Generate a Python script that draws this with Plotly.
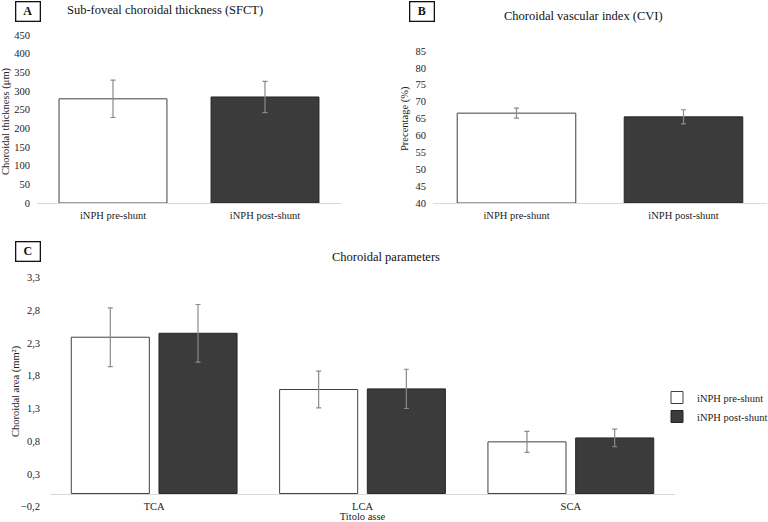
import plotly.graph_objects as go

# ---- data ----
groups = ["iNPH pre-shunt", "iNPH post-shunt"]
sfct_mean = [279, 284]
sfct_err = [50, 42]
cvi_mean = [66.6, 65.5]
cvi_err = [1.5, 2.1]
params = ["TCA", "LCA", "SCA"]
pre_area = [2.39, 1.59, 0.79]
pre_area_err = [0.45, 0.28, 0.16]
post_area = [2.45, 1.60, 0.85]
post_area_err = [0.44, 0.30, 0.135]

W, H = 768, 522
FONT = "Liberation Serif, Times New Roman, serif"
WHITE_FILL = "#ffffff"
DARK_FILL = "#3b3b3b"
PRE_LINE = "#404040"
POST_LINE = "#262626"
ERR_COL = "#8a8a8a"
AXIS_COL = "#d9d9d9"


def px_x(x):
    return x / W


def px_y(y):
    return (H - y) / H


fig = go.Figure()

err_style = dict(type="data", color=ERR_COL, thickness=1.2, width=2.5)

# Panel A
fig.add_trace(go.Bar(
    x=groups, y=sfct_mean,
    error_y=dict(array=sfct_err, **err_style),
    marker=dict(color=[WHITE_FILL, DARK_FILL], line=dict(color=[PRE_LINE, POST_LINE], width=1)),
    width=0.71, showlegend=False, xaxis="x", yaxis="y"))

# Panel B
fig.add_trace(go.Bar(
    x=groups, y=[v - 40 for v in cvi_mean], base=40,
    error_y=dict(array=cvi_err, **err_style),
    marker=dict(color=[WHITE_FILL, DARK_FILL], line=dict(color=[PRE_LINE, POST_LINE], width=1)),
    width=0.71, showlegend=False, xaxis="x2", yaxis="y2"))

# Panel C
fig.add_trace(go.Bar(
    name="iNPH pre-shunt", x=params, y=pre_area,
    error_y=dict(array=pre_area_err, **err_style),
    marker=dict(color=WHITE_FILL, line=dict(color=PRE_LINE, width=1)),
    xaxis="x3", yaxis="y3"))
fig.add_trace(go.Bar(
    name="iNPH post-shunt", x=params, y=post_area,
    error_y=dict(array=post_area_err, **err_style),
    marker=dict(color=DARK_FILL, line=dict(color=POST_LINE, width=1)),
    xaxis="x3", yaxis="y3"))

tickfont = dict(family=FONT, size=10.5, color="#222222")

c_dom = [px_y(506.6), px_y(277.7)]
c_rng = [-0.2, 3.3]
c_zero_pos = c_dom[0] + (0 - c_rng[0]) / (c_rng[1] - c_rng[0]) * (c_dom[1] - c_dom[0])

common = dict(automargin=False, ticks="", tickfont=tickfont, fixedrange=True)

fig.update_layout(
    width=W, height=H,
    margin=dict(l=0, r=0, t=0, b=0, autoexpand=False),
    paper_bgcolor="white", plot_bgcolor="white",
    font=dict(family=FONT, color="#222222"),
    separators=", ",
    barmode="group", bargap=0.158, bargroupgap=0.11,
    xaxis=dict(domain=[px_x(37), px_x(341)], anchor="y", showline=True, linecolor=AXIS_COL,
               linewidth=1, ticklabelstandoff=2, **common),
    yaxis=dict(domain=[px_y(203), px_y(35)], anchor="x", range=[0, 450], dtick=50,
               showgrid=False, zeroline=False, showline=False, ticklabelstandoff=6, **common),
    xaxis2=dict(domain=[px_x(433), px_x(767)], anchor="y2", showline=True, linecolor=AXIS_COL,
                linewidth=1, ticklabelstandoff=2, **common),
    yaxis2=dict(domain=[px_y(203), px_y(51)], anchor="x2", range=[40, 85], dtick=5,
                showgrid=False, zeroline=False, showline=False, ticklabelstandoff=6, **common),
    xaxis3=dict(domain=[px_x(50), px_x(675)], anchor="free", position=c_zero_pos,
                showline=True, linecolor=AXIS_COL, linewidth=1, ticklabelstandoff=3,
                title=dict(text="Titolo asse", font=dict(family=FONT, size=10.5), standoff=1),
                **common),
    yaxis3=dict(domain=c_dom, anchor="x3", range=c_rng, tick0=-0.2, dtick=0.5,
                tickformat=".1f", showgrid=False, zeroline=False, showline=False,
                ticklabelstandoff=9, **common),
    legend=dict(x=px_x(657), y=px_y(383), xanchor="left", yanchor="top",
                font=dict(family=FONT, size=10.5, color="#222222"),
                bgcolor="rgba(0,0,0,0)", tracegroupgap=0, itemwidth=30),
)

titles = [
    ("Sub-foveal choroidal thickness (SFCT)", 164.5, 10),
    ("Choroidal vascular index (CVI)", 583, 16),
    ("Choroidal parameters", 386, 257),
]
for t, x, y in titles:
    fig.add_annotation(text=t, x=px_x(x), y=px_y(y), xref="paper", yref="paper",
                       showarrow=False, xanchor="center", yanchor="middle",
                       font=dict(family=FONT, size=12.5, color="#111111"))

ytitles = [
    ("Choroidal thickness (μm)", 6, 121),
    ("Precentage (%)", 405, 119),
    ("Choroidal area (mm²)", 16, 391),
]
for t, x, y in ytitles:
    fig.add_annotation(text=t, x=px_x(x), y=px_y(y), xref="paper", yref="paper",
                       showarrow=False, xanchor="center", yanchor="middle", textangle=-90,
                       font=dict(family=FONT, size=10.5, color="#222222"))

boxes = [("A", 28, 11.5), ("B", 421.5, 11.5), ("C", 27.5, 251.5)]
for t, x, y in boxes:
    fig.add_annotation(text="<b>%s</b>" % t, x=px_x(x), y=px_y(y), xref="paper", yref="paper",
                       showarrow=False, xanchor="center", yanchor="middle",
                       bordercolor="#111111", borderwidth=1.3, borderpad=1, width=21, height=16,
                       bgcolor="white", font=dict(family=FONT, size=12, color="#111111"))

fig.write_html("out.html", config={"displayModeBar": False})

# remove default page margin so the figure fills the window exactly
with open("out.html", "r", encoding="utf-8") as f:
    html = f.read()
html = html.replace("<body>", '<body style="margin:0;padding:0;">', 1)
html = html.replace("<head>", '<head><style>html,body{margin:0;padding:0;overflow:hidden;}</style>', 1)
with open("out.html", "w", encoding="utf-8") as f:
    f.write(html)
